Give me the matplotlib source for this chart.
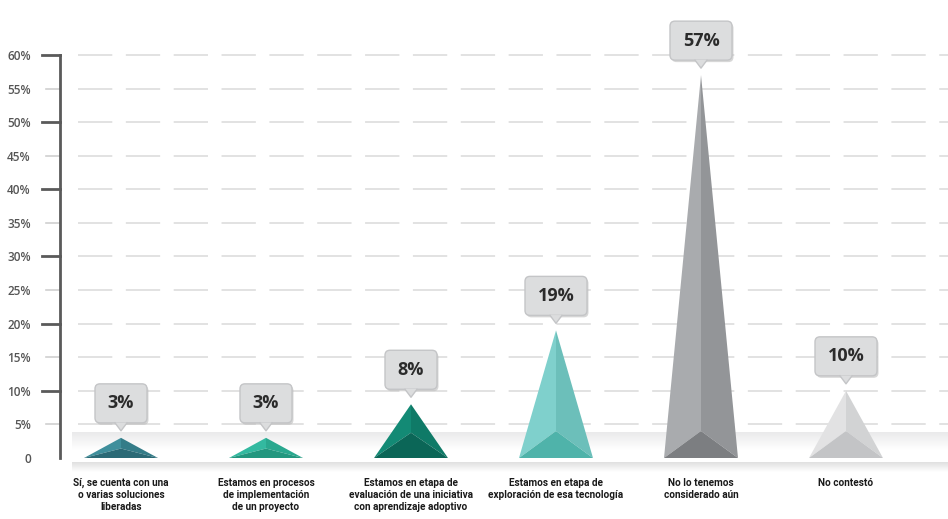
import numpy as np
import matplotlib.pyplot as plt
from matplotlib.patches import Polygon, FancyBboxPatch
from matplotlib.colors import LinearSegmentedColormap

# ============ DATA ============
categories = [
    "Sí, se cuenta con una\no varias soluciones\nliberadas",
    "Estamos en procesos\nde implementación\nde un proyecto",
    "Estamos en etapa de\nevaluación de una iniciativa\ncon aprendizaje adoptivo",
    "Estamos en etapa de\nexploración de esa tecnología",
    "No lo tenemos\nconsiderado aún",
    "No contestó",
]
values = [3, 3, 8, 19, 57, 10]
value_labels = ["3%", "3%", "8%", "19%", "57%", "10%"]
y_ticks = list(range(0, 65, 5))
y_tick_labels = ["0"] + [f"{t}%" for t in y_ticks[1:]]

# face colours: left, right, bottom
face_colors = [
    ("#3f8f9c", "#347c88", "#2b6a76"),
    ("#33b9a0", "#2aa88f", "#23977f"),
    ("#138a75", "#0f7a67", "#0b6657"),
    ("#7fd0cc", "#6cbfba", "#4fb3aa"),
    ("#a9abae", "#939598", "#7c7e81"),
    ("#e2e2e3", "#d2d3d4", "#c3c4c6"),
]

# ============ FIGURE ============
W, H = 948, 519
fig = plt.figure(figsize=(W / 100, H / 100), dpi=100)
ax_left, ax_right = 60, 948
y0_px, px_per_unit = 458, 6.717
y_top = 66
ax = fig.add_axes([ax_left / W, (H - y0_px) / H, (ax_right - ax_left) / W,
                   y_top * px_per_unit / H])

x_first, x_step = 121, 145
x_lo = (ax_left - x_first) / x_step
x_hi = (ax_right - x_first) / x_step
ax.set_xlim(x_lo, x_hi)
ax.set_ylim(0, y_top)

px_x = 1 / x_step          # x data units per pixel
px_y = 1 / px_per_unit     # y data units per pixel

# ============ FLOOR / SHADOW ============
band_cmap = LinearSegmentedColormap.from_list("band", ["#ffffff", "#eaeaeb"])
ax.imshow(np.linspace(1, 0, 50).reshape(-1, 1), cmap=band_cmap, aspect="auto",
          origin="upper", extent=(x_lo + 12 * px_x, x_hi, 8 * px_y, 26 * px_y),
          zorder=0.5)
shadow_cmap = LinearSegmentedColormap.from_list("shadow", ["#e0e0e0", "#ffffff"])
ax.imshow(np.linspace(0, 1, 50).reshape(-1, 1), cmap=shadow_cmap, aspect="auto",
          origin="upper", extent=(x_lo + 12 * px_x, x_hi, -14 * px_y, -4 * px_y),
          zorder=0.5, clip_on=False)

# ============ GRID ============
for t in y_ticks[1:]:
    ax.plot([x_lo + 18 * px_x, x_hi], [t, t], color="#dfdfdf", lw=1.3,
            ls=(0, (19, 7.5)), zorder=1, solid_capstyle="butt")

# ============ PYRAMIDS ============
half_w = 37 * px_x
for i, (v, cols) in enumerate(zip(values, face_colors)):
    c = i
    k = min(0.47 * v, 27 * px_y)
    left = Polygon([(c - half_w, 0), (c, v), (c, k)], closed=True,
                   facecolor=cols[0], edgecolor="none", zorder=3)
    right = Polygon([(c, v), (c + half_w, 0), (c, k)], closed=True,
                    facecolor=cols[1], edgecolor="none", zorder=3)
    bottom = Polygon([(c - half_w, 0), (c, k), (c + half_w, 0)], closed=True,
                     facecolor=cols[2], edgecolor="none", zorder=3)
    for p in (left, right, bottom):
        ax.add_patch(p)

    # callout box
    bw = (62 if len(value_labels[i]) > 2 else 52) * px_x
    bh = 39 * px_y
    gap = 15 * px_y
    yb = v + gap
    r = 5 * px_x
    aspect = px_y / px_x
    shadow = FancyBboxPatch((c - bw / 2 + 1.5 * px_x, yb - 2 * px_y), bw, bh,
                            boxstyle=f"round,pad=0,rounding_size={r}",
                            mutation_aspect=aspect, facecolor="#bdbdbd",
                            edgecolor="none", alpha=0.6, zorder=4, clip_on=False)
    box = FancyBboxPatch((c - bw / 2, yb), bw, bh,
                         boxstyle=f"round,pad=0,rounding_size={r}",
                         mutation_aspect=aspect, facecolor="#dcddde",
                         edgecolor="#c4c5c7", lw=1.0, zorder=5, clip_on=False)
    ax.add_patch(shadow)
    ax.add_patch(box)
    tip = Polygon([(c - 6 * px_x, yb + 0.3 * px_y), (c, yb - 8 * px_y),
                   (c + 6 * px_x, yb + 0.3 * px_y)], closed=True,
                  facecolor="#dcddde", edgecolor="none", zorder=6, clip_on=False)
    ax.add_patch(tip)
    ax.plot([c - 6 * px_x, c, c + 6 * px_x],
            [yb, yb - 8 * px_y, yb], color="#c4c5c7", lw=1.0, zorder=6,
            clip_on=False)
    ax.text(c, yb + bh / 2, value_labels[i], ha="center", va="center",
            fontsize=13, fontweight="bold", color="#2b2b2b",
            family=["Open Sans", "DejaVu Sans"], zorder=7)

    # category label
    ax.text(c, -20 * px_y, categories[i], ha="center", va="top",
            fontsize=7.2, fontweight="bold", color="#1a1a1a",
            family=["Roboto", "DejaVu Sans"],
            linespacing=1.25, clip_on=False)

# ============ AXIS ============
for s in ["top", "right", "bottom"]:
    ax.spines[s].set_visible(False)
ax.spines["left"].set_bounds(0, 60)
ax.spines["left"].set_color("#5a5a5a")
ax.spines["left"].set_linewidth(2)
ax.set_xticks([])
ax.set_yticks(y_ticks)
ax.set_yticklabels(y_tick_labels)
ax.tick_params(axis="y", length=0, pad=21, labelsize=8.5, labelcolor="#555555")
for lab in ax.get_yticklabels():
    lab.set_fontweight("semibold")
    lab.set_family(["Open Sans", "DejaVu Sans"])
for t in y_ticks[1:]:
    major = t % 10 == 0
    ax.plot([-18 * px_x + x_lo if major else -14 * px_x + x_lo, x_lo],
            [t, t], color="#5a5a5a" if major else "#d0d0d0",
            lw=2 if major else 1.2, clip_on=False, zorder=2)

fig.savefig("out.png", dpi=100, facecolor="white")
